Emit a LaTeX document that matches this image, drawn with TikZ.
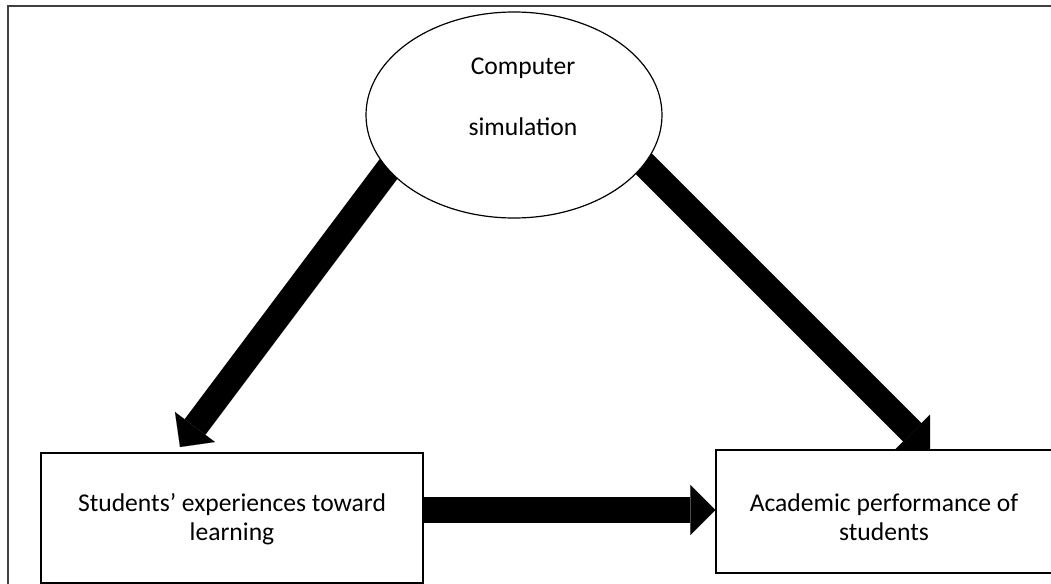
\documentclass[tikz,border=0pt]{standalone}
\usepackage{fontspec}
\setmainfont{Carlito}
\usetikzlibrary{arrows.meta,shapes.geometric}
\pgfdeclarelayer{bg}
\pgfsetlayers{bg,main}
\begin{document}
\begin{tikzpicture}[x=0.5pt,y=-0.5pt,
  txt/.style={font=\fontsize{12.8}{14.5}\selectfont},
  boxnode/.style={draw=black,line width=0.7pt,fill=white,rectangle,inner sep=0pt,txt},
  ellnode/.style={draw=black,line width=0.6pt,fill=white,ellipse,inner sep=0pt},
  blockarrow/.style={line width=13pt,-{Triangle[width=25pt,length=12.5pt,line width=0.01pt]}}]
\useasboundingbox (0,0) rectangle (1051,584);
\draw[line width=0.6pt,black!75] (8,584) -- (8,6) -- (1051,6);
\node[ellnode,minimum width=148pt,minimum height=103pt] (sim) at (514,115) {};
\node[txt,align=center] (simtext) at (523,97) {Computer\\[16pt]simulation};
\node[boxnode,minimum width=191pt,minimum height=65pt,text height=5pt,text depth=12pt] (lbox) at (232,518)
  {\begin{tabular}[t]{@{}c@{}}Students’ experiences toward\\learning\end{tabular}};
\node[boxnode,minimum width=168pt,minimum height=61.5pt,text height=6pt,text depth=6.5pt] (rbox) at (884,511.5)
  {\begin{tabular}[t]{@{}c@{}}Academic performance of\\students\end{tabular}};
\coordinate (s1) at (390,167);
\coordinate (t1) at (180,447);
\coordinate (s2) at (640,160);
\coordinate (t2) at (930,450);
\begin{pgfonlayer}{bg}
\draw[blockarrow] (s1) -- (t1);
\draw[blockarrow] (s2) -- (t2);
\draw[blockarrow] ([yshift=4pt]lbox.east) -- ([yshift=4pt]lbox.east -| rbox.west);
\end{pgfonlayer}
\end{tikzpicture}
\end{document}
